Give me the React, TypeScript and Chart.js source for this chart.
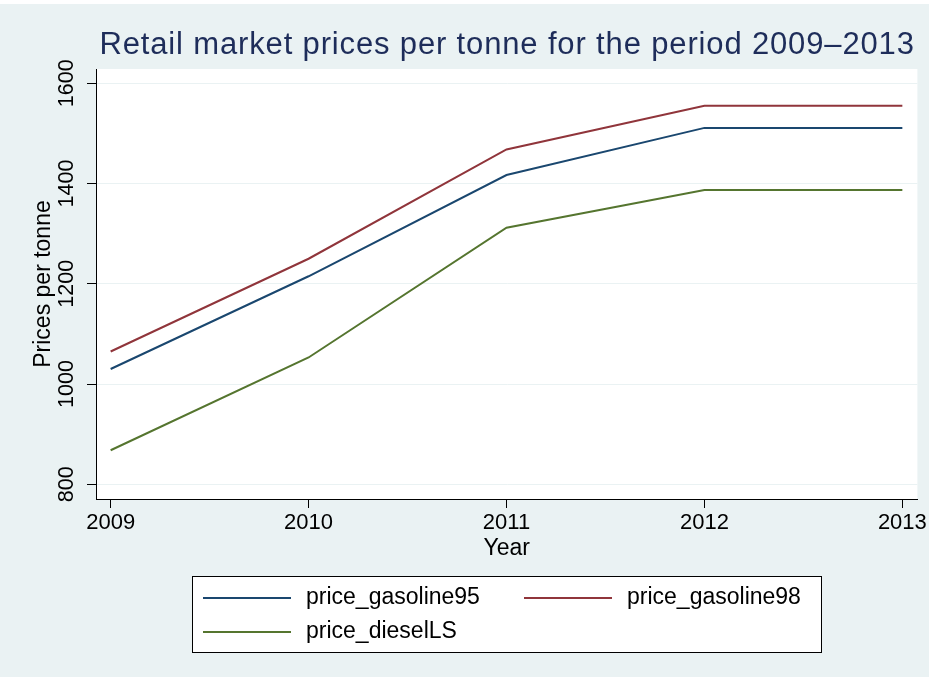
import React, { useEffect, useRef } from "react";
import { Chart, registerables } from "chart.js";

Chart.register(...registerables);

const years = [2009, 2010, 2011, 2012, 2013];
const gasoline95 = [1030, 1215, 1417, 1511, 1511];
const gasoline98 = [1065, 1250, 1468, 1555, 1555];
const dieselLS = [868, 1053, 1312, 1387, 1387];
const seriesLabels = ["price_gasoline95", "price_gasoline98", "price_dieselLS"];
const seriesColors = ["#1a476f", "#90353b", "#55752f"];
const yTicks = [800, 1000, 1200, 1400, 1600];
const titleText = "Retail market prices per tonne for the period 2009–2013";
const xTitle = "Year";
const yTitle = "Prices per tonne";

const FONT = '"Liberation Sans", Arial, Helvetica, sans-serif';
const BG = "#eaf2f3";
const W = 929;
const H = 677;

const bgPlugin = {
  id: "bgPlugin",
  beforeDraw(chart: any) {
    const { ctx, chartArea } = chart;
    ctx.save();
    ctx.fillStyle = BG;
    ctx.fillRect(0, 0, chart.width, chart.height);
    ctx.fillStyle = "#ffffff";
    ctx.fillRect(0, 0, chart.width, 4);
    ctx.fillRect(chartArea.left, chartArea.top, chartArea.right - chartArea.left, chartArea.bottom - chartArea.top);
    ctx.restore();
  },
};

const titlePlugin = {
  id: "titlePlugin",
  afterDraw(chart: any) {
    const { ctx, chartArea } = chart;
    ctx.save();
    ctx.font = `31px ${FONT}`;
    try {
      (ctx as any).letterSpacing = "0.85px";
    } catch (e) {}
    ctx.fillStyle = "#1e2d5a";
    ctx.textAlign = "center";
    ctx.textBaseline = "alphabetic";
    ctx.fillText(titleText, (chartArea.left + chartArea.right) / 2 + 0.4, 54);
    ctx.restore();
  },
};

const legendPlugin = {
  id: "legendPlugin",
  afterDraw(chart: any) {
    const { ctx } = chart;
    ctx.save();
    ctx.fillStyle = "#ffffff";
    ctx.fillRect(192.5, 576.5, 629, 76);
    ctx.strokeStyle = "#000000";
    ctx.lineWidth = 1;
    ctx.strokeRect(192.5, 576.5, 629, 76);
    const cols = [203, 524];
    const rows = [598, 632];
    ctx.font = `23px ${FONT}`;
    ctx.textAlign = "left";
    ctx.textBaseline = "middle";
    chart.data.datasets.forEach((ds: any, i: number) => {
      const cx = cols[i % 2];
      const cy = rows[Math.floor(i / 2)];
      ctx.strokeStyle = ds.borderColor;
      ctx.lineWidth = 2;
      ctx.beginPath();
      ctx.moveTo(cx, cy);
      ctx.lineTo(cx + 88, cy);
      ctx.stroke();
      ctx.fillStyle = "#000000";
      ctx.fillText(ds.label, cx + 103, cy);
    });
    ctx.restore();
  },
};

export default function App() {
  const ref = useRef<HTMLCanvasElement | null>(null);

  useEffect(() => {
    if (!ref.current) return;
    const series = [gasoline95, gasoline98, dieselLS];
    const chart = new Chart(ref.current, {
      type: "line",
      data: {
        datasets: series.map((arr, i) => ({
          label: seriesLabels[i],
          data: years.map((x, j) => ({ x, y: arr[j] })),
          borderColor: seriesColors[i],
          backgroundColor: seriesColors[i],
          borderWidth: 2,
          pointRadius: 0,
          fill: false,
          tension: 0,
        })),
      },
      options: {
        responsive: false,
        animation: false,
        devicePixelRatio: 1,
        layout: { padding: { left: 0, top: 69, right: 10, bottom: 108 } },
        plugins: {
          legend: { display: false },
          title: { display: false },
          tooltip: { enabled: false },
        },
        scales: {
          x: {
            type: "linear",
            min: 2008.926,
            max: 2013.076,
            afterBuildTicks: (s: any) => {
              s.ticks = years.map((v) => ({ value: v }));
            },
            afterFit: (s: any) => {
              s.height = 70;
            },
            ticks: {
              callback: (v: any) => String(v),
              font: { size: 22, family: FONT },
              color: "#000",
              padding: 2,
              autoSkip: false,
              maxRotation: 0,
              minRotation: 0,
            },
            grid: {
              drawOnChartArea: false,
              drawTicks: true,
              tickLength: 9,
              tickColor: "#000",
              lineWidth: 1,
            },
            border: { display: true, color: "#000", width: 1 },
            title: {
              display: true,
              text: xTitle,
              font: { size: 23, family: FONT },
              color: "#000",
              padding: { top: 0, bottom: 6.7 },
            },
          },
          y: {
            type: "linear",
            min: 770.7,
            max: 1628.5,
            afterBuildTicks: (s: any) => {
              s.ticks = yTicks.map((v) => ({ value: v }));
            },
            afterFit: (s: any) => {
              s.width = 96;
            },
            ticks: {
              callback: (v: any) => String(v),
              font: { size: 21.5, family: FONT },
              color: "#000",
              minRotation: 90,
              maxRotation: 90,
              crossAlign: "center",
              padding: -4.4,
              autoSkip: false,
            },
            grid: {
              color: BG,
              lineWidth: 1,
              drawTicks: true,
              tickLength: 9,
              tickColor: "#000",
            },
            border: { display: true, color: "#000", width: 1 },
            title: {
              display: true,
              text: yTitle,
              font: { size: 23, family: FONT },
              color: "#000",
              padding: { top: 30.2, bottom: 0 },
            },
          },
        },
      } as any,
      plugins: [bgPlugin, titlePlugin, legendPlugin],
    });
    return () => chart.destroy();
  }, []);

  return (
    <div style={{ position: "absolute", left: 0, top: 0, width: W, height: H }}>
      <canvas ref={ref} width={W} height={H} style={{ display: "block", width: W, height: H }} />
    </div>
  );
}
